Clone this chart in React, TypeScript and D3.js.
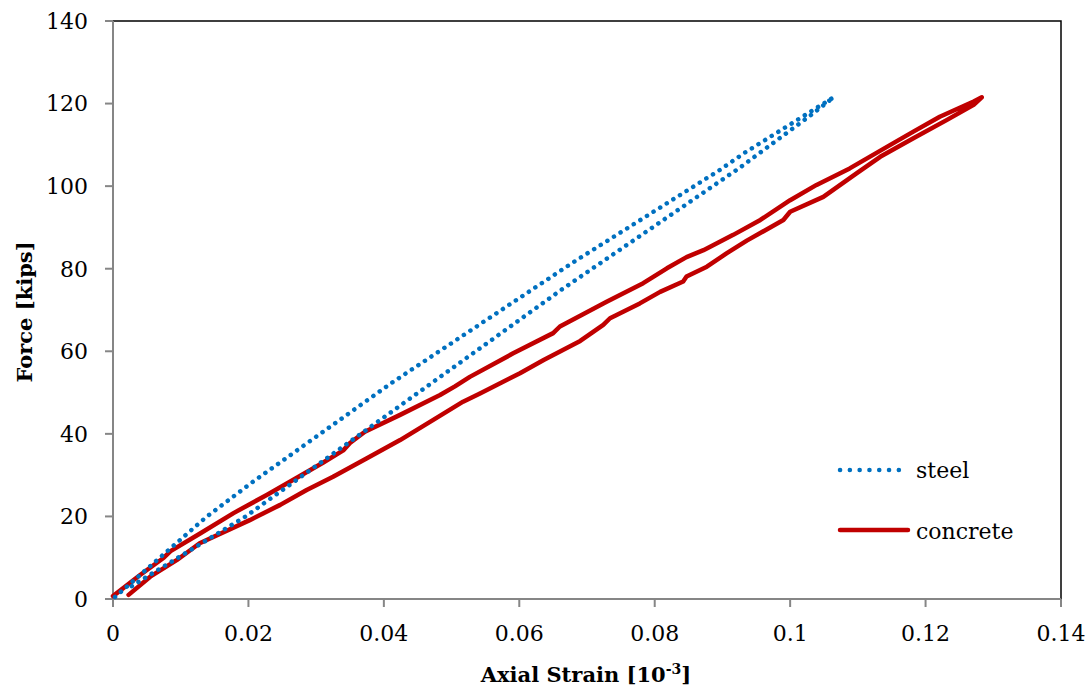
import React from "react";
import * as d3 from "d3";

const strainTicks = [0, 0.02, 0.04, 0.06, 0.08, 0.1, 0.12, 0.14];
const forceTicks = [0, 20, 40, 60, 80, 100, 120, 140];

// steel: loading then unloading
const steelStrain = [0.0003, 0.001, 0.0138, 0.0205, 0.0412, 0.0681, 0.0896, 0.0932, 0.1064,
  0.1033, 0.0925, 0.0663, 0.04, 0.0195, 0.0047, 0.0025];
const steelForce = [0.5, 1.5, 19.9, 28.2, 52.4, 81.7, 103.9, 108, 121.5,
  117.5, 104.4, 75.0, 44.0, 19.9, 5.1, 2.8];

// concrete: loading then unloading
const concreteStrain = [0, 0.004, 0.0075, 0.0085, 0.0128, 0.0178, 0.0227, 0.0276, 0.031, 0.034, 0.035, 0.0372,
  0.0424, 0.0483, 0.0505, 0.0527, 0.0591, 0.065, 0.066, 0.069, 0.0729, 0.0783, 0.0818, 0.0847, 0.0872,
  0.0916, 0.0956, 0.1, 0.1039, 0.1088, 0.1148, 0.1182, 0.1221, 0.1271, 0.1283,
  0.1271, 0.1231, 0.1182, 0.1133, 0.1098, 0.1049, 0.1, 0.099, 0.0936, 0.0906, 0.0877, 0.0847, 0.0842,
  0.0808, 0.0778, 0.0734, 0.0724, 0.069, 0.0636, 0.0601, 0.0542, 0.0517, 0.0473, 0.0424, 0.0375,
  0.0325, 0.0286, 0.0247, 0.0202, 0.0128, 0.0094, 0.0055, 0.0023];
const concreteForce = [0.7, 5.8, 10.0, 11.6, 15.8, 20.8, 25.2, 29.8, 33.0, 36.0, 37.8, 40.5,
  44.6, 49.4, 51.5, 53.8, 59.5, 64.4, 66.0, 68.6, 72.0, 76.5, 80.1, 82.8, 84.5,
  88.2, 91.8, 96.6, 100.3, 104.3, 110.0, 113.2, 116.8, 120.5, 121.5,
  119.7, 116.0, 111.6, 107.1, 103.1, 97.4, 93.8, 91.8, 86.8, 83.7, 80.5, 78.1, 76.9,
  74.4, 71.6, 68.0, 66.4, 62.5, 57.9, 54.7, 49.8, 47.8, 43.4, 38.5, 34.1,
  29.6, 26.4, 22.8, 19.1, 13.5, 9.4, 5.4, 1.0];

const font = "'DejaVu Serif', serif";
const left = 113, right = 1061, top = 21, bottom = 599;

export default function App() {
  const x = d3.scaleLinear().domain([0, 0.14]).range([left, right]);
  const y = d3.scaleLinear().domain([0, 140]).range([bottom, top]);
  const line = d3.line<[number, number]>().x(d => x(d[0])).y(d => y(d[1]));
  const steel = steelStrain.map((s, i) => [s, steelForce[i]] as [number, number]);
  const concrete = concreteStrain.map((s, i) => [s, concreteForce[i]] as [number, number]);

  return (
    <svg width={1092} height={692} style={{ position: "absolute", left: 0, top: 0, background: "#fff" }}>
      <rect x={left} y={top} width={right - left} height={bottom - top} fill="none" stroke="#000" strokeWidth={1.5} />
      <line x1={left} x2={left} y1={top} y2={bottom} stroke="#868686" strokeWidth={2} />
      <line x1={left} x2={right} y1={bottom} y2={bottom} stroke="#868686" strokeWidth={2} />
      {forceTicks.map(t => (
        <g key={t}>
          <line x1={left - 8} x2={left} y1={y(t)} y2={y(t)} stroke="#868686" strokeWidth={2} />
          <text x={88} y={y(t)} dy="0.36em" textAnchor="end" fontFamily={font} fontSize={22}>{t}</text>
        </g>
      ))}
      {strainTicks.map(t => (
        <g key={t}>
          <line x1={x(t)} x2={x(t)} y1={bottom} y2={bottom + 8} stroke="#868686" strokeWidth={2} />
          <text x={x(t)} y={641} textAnchor="middle" fontFamily={font} fontSize={22}>{d3.format("~g")(t)}</text>
        </g>
      ))}
      <path d={line(concrete) || ""} fill="none" stroke="#C00000" strokeWidth={4.5} strokeLinejoin="round" strokeLinecap="round" />
      <path d={line(steel) || ""} fill="none" stroke="#0070C0" strokeWidth={4.5} strokeDasharray="0.1 7.7" strokeLinecap="round" />

      <line x1={840} x2={908} y1={470} y2={470} stroke="#0070C0" strokeWidth={4.5} strokeDasharray="0.1 9.7" strokeLinecap="round" />
      <text x={916} y={478} fontFamily={font} fontSize={22}>steel</text>
      <line x1={840} x2={908} y1={530} y2={530} stroke="#C00000" strokeWidth={4.5} strokeLinecap="round" />
      <text x={916} y={539} fontFamily={font} fontSize={22}>concrete</text>

      <text x={586} y={682} textAnchor="middle" fontFamily={font} fontSize={21} fontWeight="bold">
        Axial Strain [10<tspan dy={-8} fontSize={14}>-3</tspan><tspan dy={8}>]</tspan>
      </text>
      <text transform="translate(32,312) rotate(-90)" textAnchor="middle" fontFamily={font} fontSize={21} fontWeight="bold">
        Force [kips]
      </text>
    </svg>
  );
}
